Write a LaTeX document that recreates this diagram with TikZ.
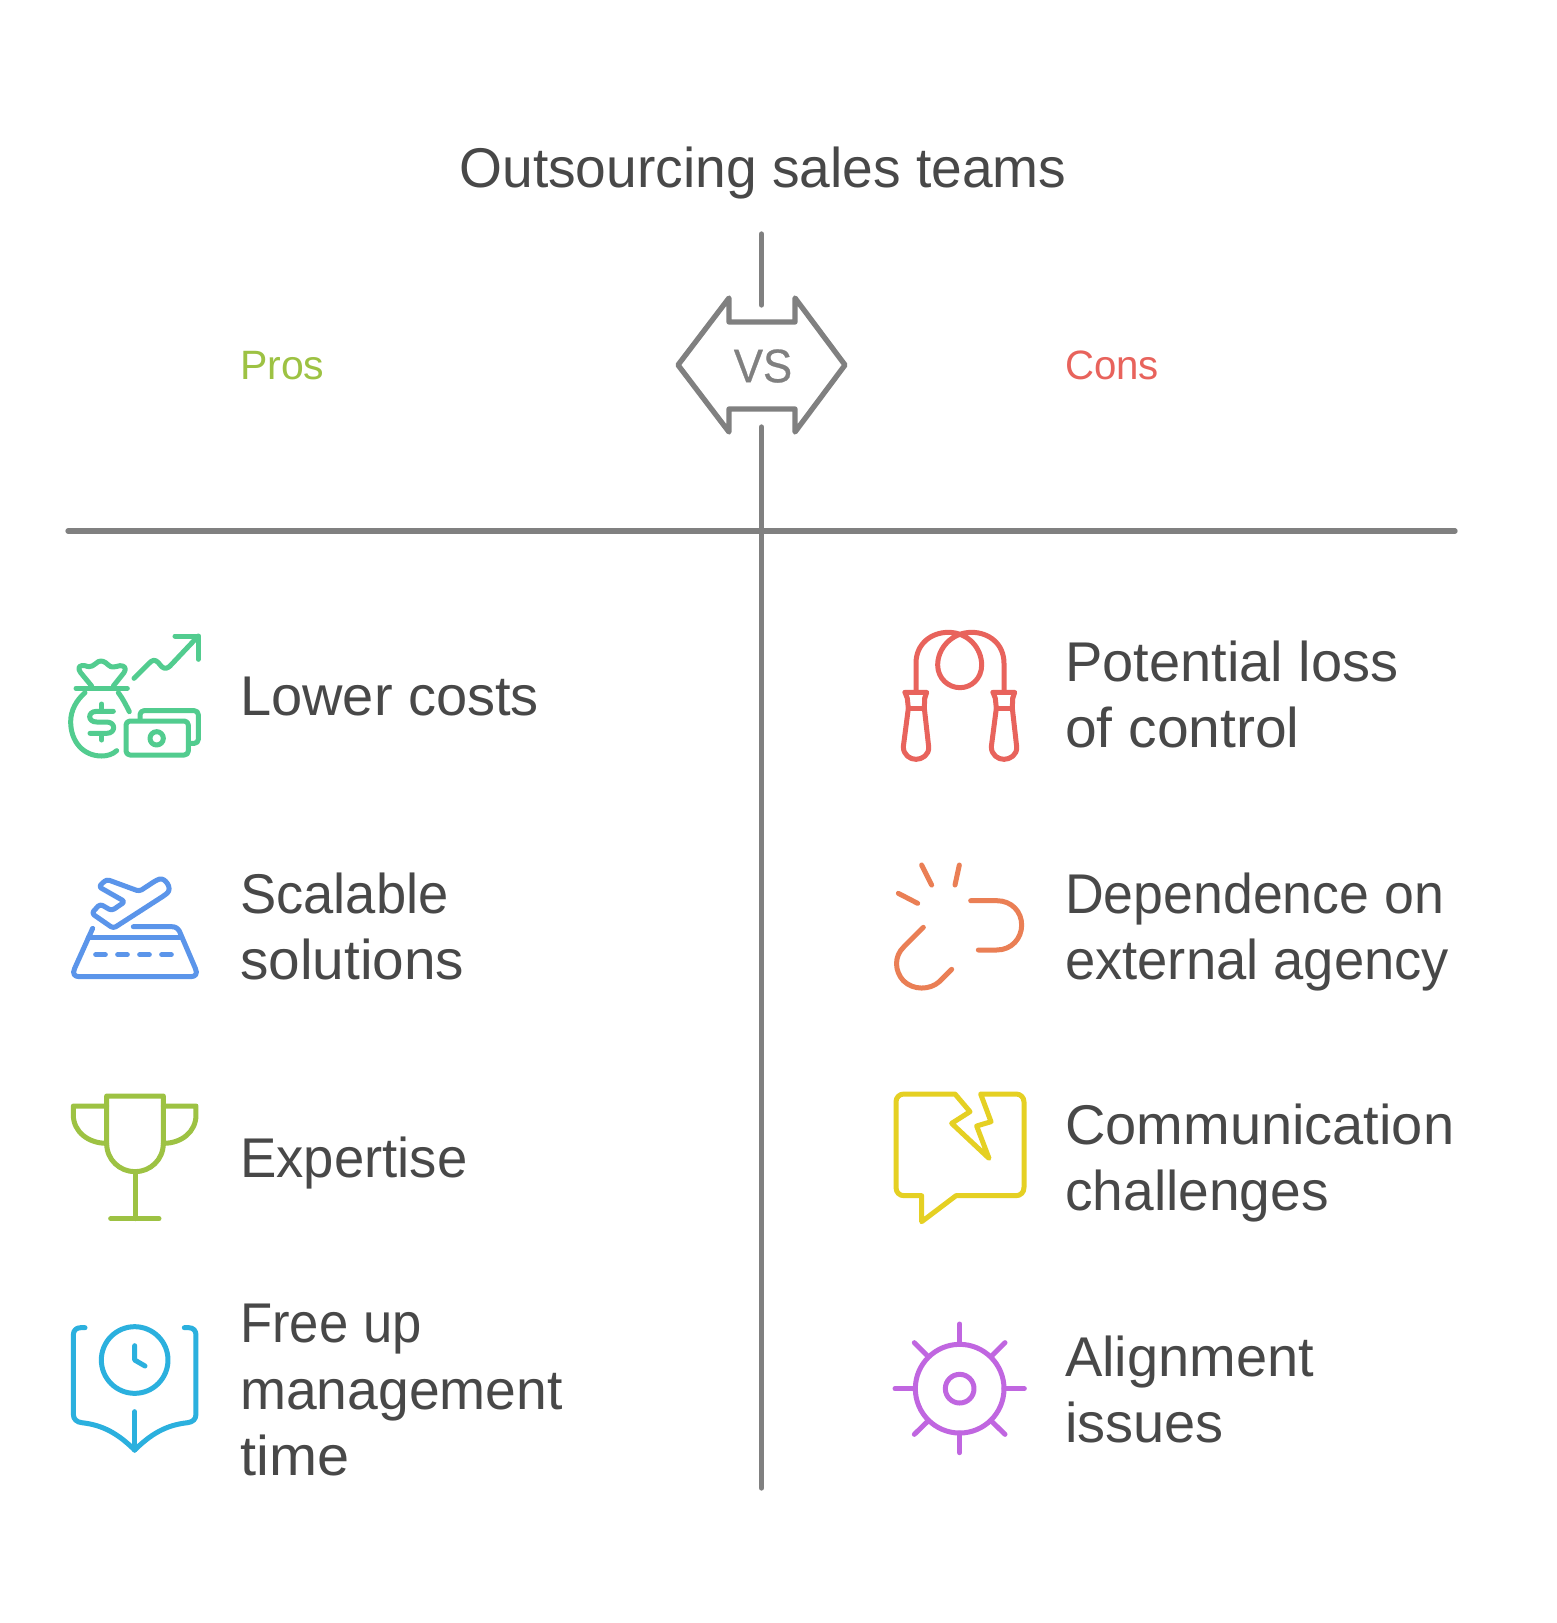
\documentclass[tikz,border=0pt]{standalone}
\usepackage{fontspec}
\usepackage{graphicx}
\setmainfont{Liberation Sans}
\newfontfamily\titlefont[FakeStretch=0.985]{Liberation Sans}
\newfontfamily\vsfont[FakeStretch=0.93,FakeBold=0.6]{Liberation Sans}
\newcommand{\fitx}[2]{\strut\scalebox{#1}[1]{#2}}
\definecolor{ink}{HTML}{484848}
\definecolor{axis}{HTML}{808080}
\definecolor{cgreen}{HTML}{52CC8F}
\definecolor{cblue}{HTML}{5B95EA}
\definecolor{colive}{HTML}{9DC243}
\definecolor{ccyan}{HTML}{2BB0DE}
\definecolor{cred}{HTML}{E8635C}
\definecolor{corange}{HTML}{EA7F55}
\definecolor{cyellow}{HTML}{E5D023}
\definecolor{cpurple}{HTML}{C066E0}
\definecolor{prosc}{HTML}{9DC243}
\definecolor{consc}{HTML}{E8635C}
\tikzset{
  zoomed/.style n args={3}{shift={(#1,#2)},x=0.33333pt,y=-0.33333pt,draw=#3,line width=5pt,line cap=round,line join=round},
  axisline/.style={draw=axis,line width=5.3pt,line cap=round,line join=round},
  lbl/.style={anchor=west,align=left,inner sep=0pt,text=ink,font=\fontsize{56}{66.4}\selectfont},
  head/.style={anchor=base west,inner sep=0pt,font=\fontsize{41}{48}\selectfont},
}
\begin{document}
\begin{tikzpicture}[x=1pt,y=-1pt]
\useasboundingbox (0,0) rectangle (1557,1623);
\fill[white] (0,0) rectangle (1557,1623);
% axes
\coordinate (axTop) at (761.5,234);
\coordinate (axTopEnd) at (761.5,305);
\coordinate (axLow) at (761.5,427);
\coordinate (axBot) at (761.5,1488);
\coordinate (hL) at (68,531);
\coordinate (hR) at (1455,531);
\draw[axisline] (axTop) -- (axTopEnd);
\draw[axisline] (axLow) -- (axBot);
\draw[axisline] (hL) -- (hR);
\draw[axisline] (678,365) -- (729,298) -- (729,322) -- (795,322) -- (795,298) -- (845,365) -- (795,432) -- (795,409) -- (729,409) -- (729,432) -- cycle;
\node[inner sep=0pt,text=axis,font=\vsfont\fontsize{47}{50}\selectfont] (vs) at (763,366) {VS};
% title and headers
\node[anchor=base,inner sep=0pt,text=ink,font=\titlefont\fontsize{56}{60}\selectfont] (title) at (763,187) {Outsourcing sales teams};
\node[head,text=prosc] (pros) at (240,379) {Pros};
\node[head,text=consc] (cons) at (1065,379) {\scalebox{0.98}[1]{Cons}};
% labels
\node[lbl] (l1) at (240,702) {\strut Lower costs};
\node[lbl] (l2) at (240,933) {\fitx{0.97}{Scalable}\\\fitx{1.014}{solutions}};
\node[lbl] (l3) at (240,1164) {\fitx{0.973}{Expertise}};
\node[lbl] (l4) at (240,1396) {\fitx{0.94}{Free up}\\\fitx{0.987}{management}\\\fitx{1.03}{time}};
\node[lbl] (r1) at (1065,701) {\strut Potential loss\\\fitx{1.018}{of control}};
\node[lbl] (r2) at (1065,933) {\fitx{0.958}{Dependence on}\\\fitx{0.971}{external agency}};
\node[lbl] (r3) at (1065,1164) {\strut Communication\\\fitx{0.984}{challenges}};
\node[lbl] (r4) at (1065,1396) {\strut Alignment\\\strut issues};
% icon: money
\begin{scope}[zoomed={50}{600}{cgreen}]
\draw (252,235) -- (295,192) .. controls (308,178) and (315,178) .. (325,188) -- (335,200) .. controls (345,208) and (352,205) .. (360,198) -- (445,108);
\draw (375,108) -- (445,108) -- (445,178);
\draw (125,258) -- (92,218) .. controls (80,200) and (90,195) .. (105,197) .. controls (125,205) and (130,195) .. (145,185) .. controls (155,180) and (165,185) .. (175,195) .. controls (185,205) and (195,200) .. (210,197) .. controls (225,197) and (230,205) .. (222,218) -- (190,258);
\draw (78,265) -- (232,265);
\draw (105,278) .. controls (80,300) and (62,330) .. (62,365) .. controls (62,425) and (100,468) .. (155,468) .. controls (172,468) and (188,463) .. (200,452);
\draw (205,278) .. controls (218,295) and (228,315) .. (238,335);
\draw (155,312) -- (155,330);
\draw (155,405) -- (155,420);
\draw (190,334) -- (140,334) .. controls (112,334) and (112,366) .. (140,366) -- (170,366) .. controls (198,366) and (198,400) .. (170,400) -- (120,400);
\draw[rounded corners=4pt] (228,363) rectangle (415,465);
\draw (320,415) circle[radius=20];
\draw[rounded corners=4pt] (270,358) -- (270,332) -- (445,332) -- (445,430) -- (417,430);
\end{scope}
% icon: runway
\begin{scope}[zoomed={50}{850}{cblue}]
\draw[rounded corners=3pt] (146,110) -- (170,88) -- (268,124) -- (320,90) .. controls (345,82) and (368,115) .. (345,135) -- (190,235) -- (125,190) -- (150,162) -- (185,182) -- (225,155) -- cycle;
\draw (128,235) -- (74,355) .. controls (66,372) and (74,380) .. (88,380) -- (422,380) .. controls (436,380) and (444,372) .. (436,355) -- (388,243) .. controls (382,234) and (376,230) .. (365,230) -- (250,230);
\draw (115,262) -- (395,262);
\draw (137,314) -- (166,314);
\draw (203,314) -- (232,314);
\draw (269,314) -- (298,314);
\draw (335,314) -- (364,314);
\end{scope}
% icon: trophy
\begin{scope}[zoomed={50}{1080}{colive}]
\draw (170,48) -- (340,48) -- (340,190) .. controls (340,240) and (300,275) .. (255,275) .. controls (210,275) and (170,240) .. (170,190) -- cycle;
\draw (170,78) -- (70,78) -- (70,105) .. controls (70,155) and (115,190) .. (170,190);
\draw (340,78) -- (438,78) -- (438,105) .. controls (438,155) and (395,190) .. (340,190);
\draw (255,275) -- (255,416);
\draw (182,416) -- (327,416);
\end{scope}
% icon: clock book
\begin{scope}[zoomed={50}{1310}{ccyan}]
\draw (254,150) circle[radius=100];
\draw (254,107) -- (254,150) -- (285,168);
\draw (105,53) -- (92,53) .. controls (78,53) and (70,62) .. (70,75) -- (70,312) .. controls (70,328) and (80,336) .. (95,338) .. controls (160,345) and (205,372) .. (254,420);
\draw (403,53) -- (416,53) .. controls (430,53) and (438,62) .. (438,75) -- (438,312) .. controls (438,328) and (428,336) .. (413,338) .. controls (348,345) and (303,372) .. (254,420);
\draw (254,305) -- (254,420);
\end{scope}
% icon: rope
\begin{scope}[zoomed={880}{620}{cred}]
\draw (108,212) -- (108,130) .. controls (108,70) and (155,37) .. (205,37) .. controls (265,37) and (305,85) .. (305,135) .. controls (305,175) and (275,203) .. (240,203) .. controls (205,203) and (173,175) .. (173,135) .. controls (173,85) and (215,37) .. (275,37) .. controls (325,37) and (372,70) .. (372,130) -- (372,212);
\foreach \dx in {0,264}{
\draw (75+\dx,217) -- (140+\dx,217) -- (134+\dx,235);
\draw (75+\dx,217) -- (82+\dx,235) -- (85+\dx,265) -- (70+\dx,380) .. controls (70+\dx,405) and (90+\dx,418) .. (108+\dx,418) .. controls (126+\dx,418) and (148+\dx,405) .. (146+\dx,380) -- (133+\dx,265) -- (134+\dx,235);
\draw (85+\dx,265) -- (133+\dx,265);
}
\end{scope}
% icon: broken link
\begin{scope}[zoomed={880}{850}{corange}]
\draw (125,45) -- (155,105);
\draw (238,45) -- (225,105);
\draw (55,130) -- (113,160);
\draw (272,152) -- (350,152) .. controls (395,152) and (425,185) .. (425,225) .. controls (425,265) and (395,300) .. (350,300) -- (295,300);
\draw (130,232) -- (72,290) .. controls (40,320) and (45,365) .. (70,392) .. controls (100,422) and (150,420) .. (178,395) -- (215,358);
\end{scope}
% icon: broken speech bubble
\begin{scope}[zoomed={880}{1080}{cyellow}]
\draw (225,42) -- (72,42) .. controls (58,42) and (48,52) .. (48,66) -- (48,322) .. controls (48,337) and (58,347) .. (72,347) -- (125,347) -- (125,425) -- (228,347) -- (408,347) .. controls (422,347) and (432,337) .. (432,322) -- (432,66) .. controls (432,52) and (422,42) .. (408,42) -- (302,42) -- (333,125) -- (290,138) -- (327,235) -- (215,130) -- (270,95) -- cycle;
\end{scope}
% icon: gear
\begin{scope}[zoomed={880}{1310}{cpurple}]
\draw (239,236) circle[radius=133];
\draw (239,236) circle[radius=43];
\draw (239,42) -- (239,103);
\draw (239,369) -- (239,428);
\draw (45,236) -- (106,236);
\draw (372,236) -- (433,236);
\draw (103,98) -- (145,140);
\draw (375,98) -- (333,140);
\draw (103,373) -- (145,332);
\draw (375,373) -- (333,332);
\end{scope}
\end{tikzpicture}
\end{document}
